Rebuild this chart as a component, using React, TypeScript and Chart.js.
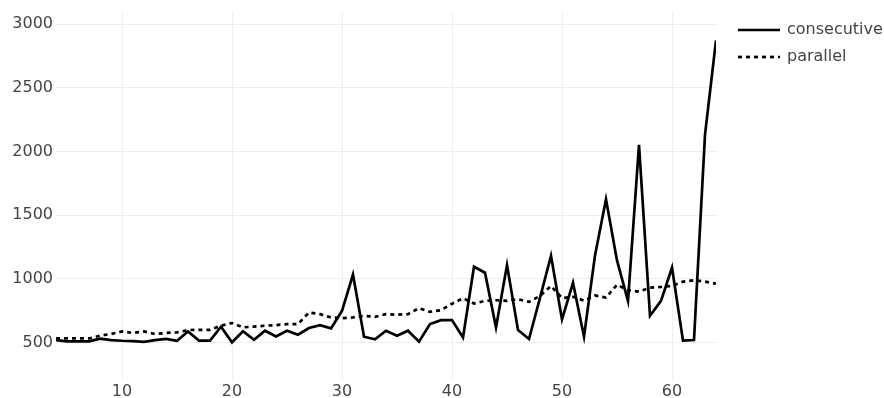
import React, { useEffect, useRef } from 'react';
import { Chart, registerables } from 'chart.js';

Chart.register(...registerables);

const threads = [
  4, 5, 6, 7, 8, 9, 10, 11, 12, 13,
  14, 15, 16, 17, 18, 19, 20, 21, 22, 23,
  24, 25, 26, 27, 28, 29, 30, 31, 32, 33,
  34, 35, 36, 37, 38, 39, 40, 41, 42, 43,
  44, 45, 46, 47, 48, 49, 50, 51, 52, 53,
  54, 55, 56, 57, 58, 59, 60, 61, 62, 63,
  64,
];

const consecutive = [
  520, 510, 510, 510, 532, 520, 515, 512, 506, 520,
  530, 515, 588, 516, 516, 625, 503, 590, 523, 594,
  549, 594, 563, 615, 638, 612, 750, 1035, 547, 526,
  594, 555, 594, 508, 646, 677, 678, 541, 1096, 1049,
  620, 1109, 599, 529, 852, 1182, 683, 970, 547, 1185,
  1625, 1145, 828, 2052, 711, 828, 1089, 516, 521, 2130,
  2872,
];

const parallel = [
  533, 533, 533, 533, 555, 568, 588, 576, 588, 568,
  576, 581, 599, 601, 601, 633, 654, 620, 626, 633,
  638, 646, 646, 737, 724, 698, 693, 698, 711, 703,
  724, 719, 724, 771, 742, 755, 805, 849, 807, 828,
  833, 828, 841, 820, 867, 945, 850, 860, 830, 870,
  854, 955, 912, 901, 932, 937, 945, 979, 990, 979,
  963,
];

const seriesNames = ['consecutive', 'parallel'];
const xTicks = [10, 20, 30, 40, 50, 60];
const yTicks = [500, 1000, 1500, 2000, 2500, 3000];

const FONT = '"DejaVu Sans", Verdana, sans-serif';
const TEXT = '#444';

export default function App() {
  const ref = useRef<HTMLCanvasElement>(null);

  useEffect(() => {
    document.body.style.margin = '0';
    const canvas = ref.current;
    if (!canvas) return;

    const legendPlugin = {
      id: 'customLegend',
      afterDraw(chart: any) {
        const ctx = chart.ctx;
        const area = chart.chartArea;
        ctx.save();
        chart.data.datasets.forEach((ds: any, i: number) => {
          const y = 30 + i * 27;
          const x0 = area.right + 22;
          ctx.beginPath();
          ctx.setLineDash(ds.borderDash || []);
          ctx.lineWidth = ds.borderWidth;
          ctx.strokeStyle = ds.borderColor;
          ctx.moveTo(x0, y);
          ctx.lineTo(x0 + 42, y);
          ctx.stroke();
          ctx.setLineDash([]);
          ctx.fillStyle = TEXT;
          ctx.font = `16px ${FONT}`;
          ctx.textBaseline = 'middle';
          ctx.textAlign = 'left';
          ctx.fillText(ds.label, x0 + 49, y);
        });
        ctx.restore();
      },
    };

    const chart = new Chart(canvas, {
      type: 'line',
      data: {
        datasets: [
          {
            label: seriesNames[0],
            data: threads.map((x, i) => ({ x, y: consecutive[i] })),
            borderColor: '#000',
            borderWidth: 2.7,
            pointRadius: 0,
            tension: 0,
            fill: false,
          },
          {
            label: seriesNames[1],
            data: threads.map((x, i) => ({ x, y: parallel[i] })),
            borderColor: '#000',
            borderWidth: 2.7,
            borderDash: [4, 4],
            pointRadius: 0,
            tension: 0,
            fill: false,
          },
        ],
      },
      options: {
        responsive: false,
        animation: false,
        layout: { padding: { left: 0, right: 168, top: 10, bottom: 0 } },
        plugins: { legend: { display: false }, tooltip: { enabled: false } },
        scales: {
          x: {
            type: 'linear',
            min: 4,
            max: 64,
            afterBuildTicks: (s: any) => {
              s.ticks = xTicks.map((v) => ({ value: v }));
            },
            afterFit: (s: any) => {
              s.height = 19;
            },
            grid: { color: '#eee', lineWidth: 1, drawTicks: false },
            border: { display: false },
            ticks: {
              padding: 3,
              color: TEXT,
              font: { family: FONT, size: 16 },
              maxRotation: 0,
              callback: (v: any) => String(v),
            },
          },
          y: {
            type: 'linear',
            min: 215,
            max: 3090,
            afterBuildTicks: (s: any) => {
              s.ticks = yTicks.map((v) => ({ value: v }));
            },
            afterFit: (s: any) => {
              s.width = 56;
            },
            grid: { color: '#eee', lineWidth: 1, drawTicks: false },
            border: { display: false },
            ticks: {
              padding: 3,
              color: TEXT,
              font: { family: FONT, size: 16 },
              callback: (v: any) => String(v),
            },
          },
        },
      },
      plugins: [legendPlugin],
    });

    return () => chart.destroy();
  }, []);

  return (
    <div style={{ width: 884, height: 398, position: 'relative' }}>
      <canvas ref={ref} width={884} height={398} />
    </div>
  );
}
